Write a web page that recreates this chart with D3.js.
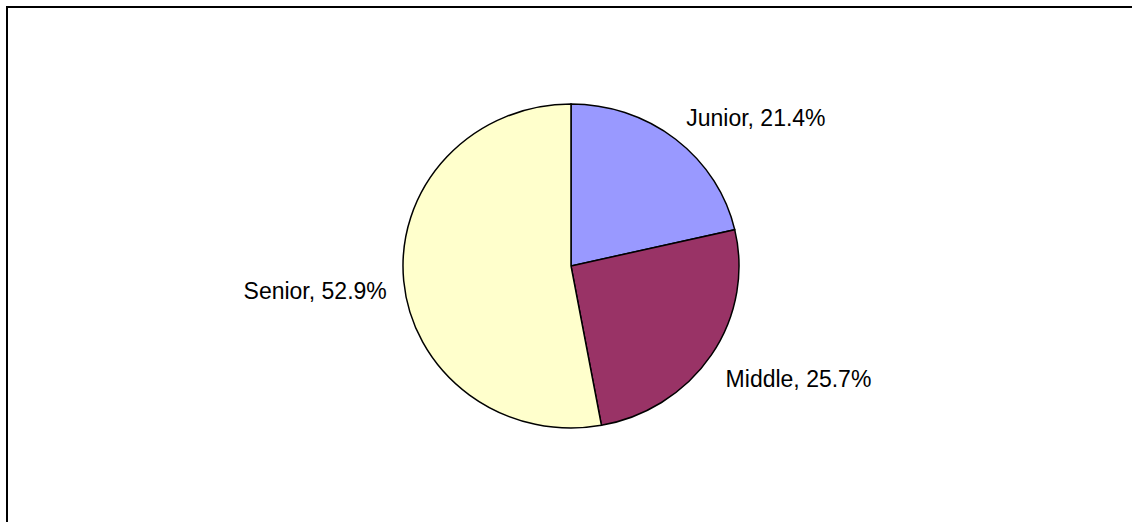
<!DOCTYPE html>
<html>
<head>
<meta charset="utf-8">
<script src="https://cdn.jsdelivr.net/npm/d3@7"></script>
<style>
  html, body { margin: 0; padding: 0; background: #fff; }
  svg { display: block; }
  text { font-family: "Liberation Sans", Arial, sans-serif; }
</style>
</head>
<body>
<div id="chart"></div>
<script>
// data
const categories = ["Junior", "Middle", "Senior"];
const shares = [21.4, 25.7, 52.9];
const colors = ["#9999FF", "#993366", "#FFFFCC"];

const width = 1132, height = 522;
const cx = 571, cy = 266;
const rx = 168, ry = 162;

const svg = d3.select("#chart").append("svg")
    .attr("width", width)
    .attr("height", height);

// outer frame (only top and left edges fall inside the window)
svg.append("rect")
    .attr("x", 7).attr("y", 7)
    .attr("width", 1300).attr("height", 700)
    .attr("fill", "none")
    .attr("stroke", "#000")
    .attr("stroke-width", 2);

const data = categories.map((c, i) => ({ name: c, value: shares[i], color: colors[i] }));

const pie = d3.pie().value(d => d.value).sort(null);
const arcs = pie(data);

const arc = d3.arc().innerRadius(0).outerRadius(rx);

const g = svg.append("g")
    .attr("transform", `translate(${cx},${cy}) scale(1,${ry / rx})`);

g.selectAll("path")
    .data(arcs)
    .join("path")
    .attr("d", arc)
    .attr("fill", d => d.data.color)
    .attr("stroke", "#000")
    .attr("stroke-width", 1.5)
    .attr("vector-effect", "non-scaling-stroke");

// labels outside the slices
const labelR = 185;
svg.selectAll("text.lbl")
    .data(arcs)
    .join("text")
    .attr("class", "lbl")
    .each(function(d) {
        const a = (d.startAngle + d.endAngle) / 2;
        const s = Math.sin(a), c = Math.cos(a);
        const x = cx + labelR * s;
        const y = cy - labelR * c - c * 8.5 + 11 + (c < 0 ? 4 : 0);
        d3.select(this)
            .attr("x", x)
            .attr("y", y)
            .attr("text-anchor", s >= 0 ? "start" : "end");
    })
    .attr("font-size", 23)
    .attr("fill", "#000")
    .text(d => `${d.data.name}, ${d.data.value.toFixed(1)}%`);
</script>
</body>
</html>
